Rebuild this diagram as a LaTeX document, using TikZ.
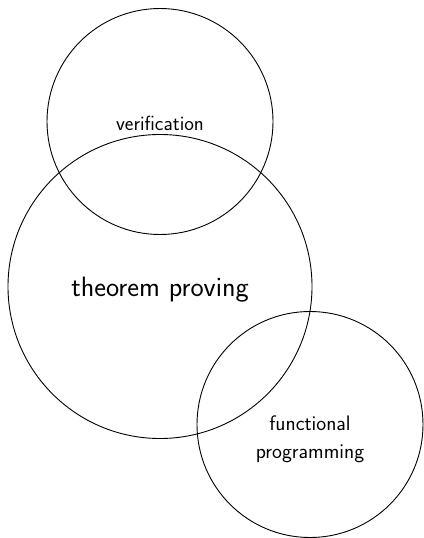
\documentclass[tikz,border=0pt]{standalone}
\begin{document}
\begin{tikzpicture}[x=1pt,y=-1pt,
  ring/.style={draw=black, line width=0.9pt, circle, inner sep=0pt},
  lbl/.style={font=\sffamily, align=center}]
\useasboundingbox (0,0) rectangle (423,538);
% the three overlapping fields
\node[ring, minimum size=226pt] (ver) at (160,121.5) {};
\node[ring, minimum size=304pt] (thm) at (160,286.5) {};
\node[ring, minimum size=226pt] (fun) at (310,424.5) {};
% labels
\node[lbl, font=\sffamily\fontsize{20.5}{24}\selectfont] (verl) at (ver.center) [yshift=-2pt] {verification};
\node[lbl, font=\sffamily\fontsize{28}{32}\selectfont] (thml) at (thm.center) [yshift=-3pt] {theorem proving};
\node[lbl, font=\sffamily\fontsize{21}{28}\selectfont] (funl) at (310,439) {functional\\programming};
\end{tikzpicture}
\end{document}
